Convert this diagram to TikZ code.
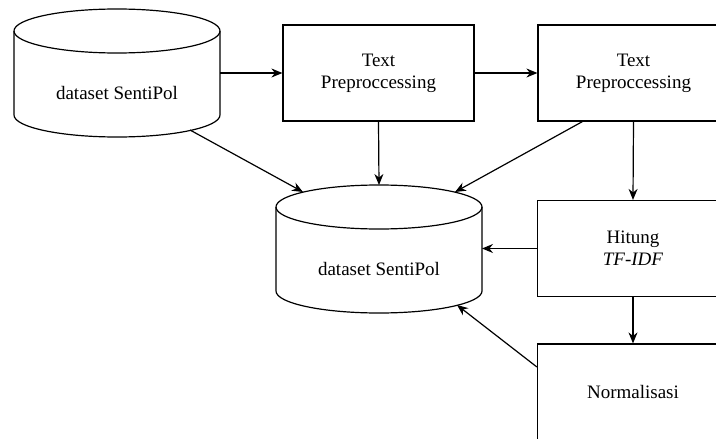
\documentclass[tikz,border=0pt]{standalone}
\usepackage{fontspec}
\setmainfont{Liberation Serif}
\usetikzlibrary{arrows.meta,calc}

\tikzset{
  proc/.style={draw, line width=1.2pt, minimum width=191pt, minimum height=96pt,
    align=center, font=\fontsize{19}{22}\selectfont},
  store/.style={minimum width=206pt, minimum height=128pt, outer sep=0pt,
    label={[font=\fontsize{19}{22}\selectfont, yshift=-20pt]center:#1}},
  storeline/.style={line width=1.2pt},
  flow/.style={line width=1.2pt, -{Stealth[length=11pt,width=9pt]}},
}

% cylinder outline round a store node
\newcommand\drawstore[1]{%
  \draw[storeline] ($(#1.north west)+(0,22)$) -- ($(#1.south west)+(0,-22)$)
    arc[start angle=180, end angle=360, x radius=103pt, y radius=22pt]
    -- ($(#1.north east)+(0,22)$);
  \draw[storeline] ($(#1.north)+(0,22)$) ellipse[x radius=103pt, y radius=22pt];
}

\begin{document}
\begin{tikzpicture}[x=1pt,y=-1pt]
        \useasboundingbox (0,0) rectangle (716,439);
        \clip (0,0) rectangle (716,439);

        % data stores
        \node[store=dataset SentiPol] (db1) at (117,73) {};
        \node[store=dataset SentiPol] (db2) at (379,249) {};
        \drawstore{db1}
        \drawstore{db2}

        % processing steps
        \node[proc] (pre1) at (378.5,73) {Text\\Preproccessing};
        \node[proc] (pre2) at (633.5,73) {Text\\Preproccessing};
        \node[proc] (tfidf) at (633,248.5) {Hitung\\\textit{TF-IDF}};
        \node[proc] (norm) at (633,392) {Normalisasi};

        % flow
        \draw[flow] (db1.east) -- (pre1.west);
        \draw[flow] (pre1.east) -- (pre2.west);
        \draw[flow] ($(db1)+(73,57)$) -- ($(db2)+(-76,-57)$);
        \draw[flow] (pre1.south) -- (db2.north);
        \draw[flow] ($(pre2.south west)+(45,0)$) -- ($(db2)+(76,-57)$);
        \draw[flow] (pre2.south) -- (tfidf.north);
        \draw[flow] (tfidf.west) -- (tfidf.west -| db2.east);
        \draw[flow] (tfidf.south) -- (norm.north);
        \draw[flow] ($(norm.west)+(0,-25)$) -- ($(db2)+(78,56)$);
\end{tikzpicture}
\end{document}
